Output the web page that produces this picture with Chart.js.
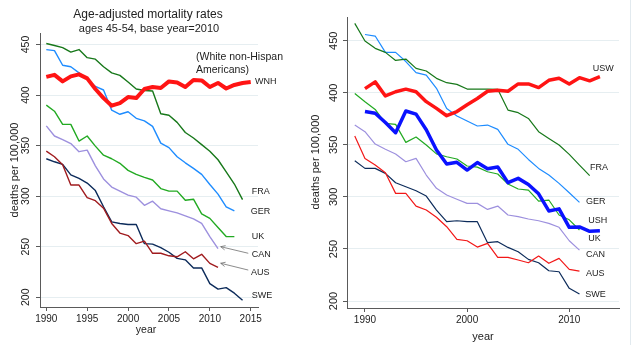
<!DOCTYPE html>
<html>
<head>
<meta charset="utf-8">
<script src="https://cdn.jsdelivr.net/npm/chart.js@4"></script>
<style>
  html, body { margin: 0; padding: 0; background: #fff; width: 640px; height: 345px; overflow: hidden; }
  canvas { position: absolute; top: 0; }
  #left { left: 0; }
  #right { left: 300px; }
</style>
</head>
<body>
<canvas id="left" width="300" height="345"></canvas>
<canvas id="right" width="340" height="345"></canvas>
<script>
// ---- Left panel: age-adjusted mortality, ages 45-54 (base year 2010) ----
const leftYears = [1990, 1991, 1992, 1993, 1994, 1995, 1996, 1997, 1998, 1999, 2000, 2001, 2002,
                   2003, 2004, 2005, 2006, 2007, 2008, 2009, 2010, 2011, 2012, 2013, 2014, 2015];
const leftWNH = [418, 420, 413.5, 418.5, 420.5, 416.5, 406, 397, 389.5, 392, 398, 397, 406,
                 408, 407, 413.5, 412.5, 408, 415, 414.5, 408, 412, 406.5, 410, 412, 413];
const leftFRA = [451, 449, 447, 442.5, 445, 437, 435.5, 428, 422, 419.5, 413, 406, 404.5,
                 404, 381.5, 380, 373, 363, 357.5, 351, 344.5, 336, 324, 312, 296.5, null];
const leftGER = [445, 444, 429.5, 428, 422, 416, 408.5, 405, 385, 381, 383.5, 377, 374.5,
                 369, 352.5, 348, 339, 333, 327.5, 321.5, 311.5, 302, 289.5, 285.5, null, null];
const leftUK  = [390, 384, 371, 371, 354.5, 359.5, 349.5, 340.5, 337, 332.5, 325.5, 321.5, 318.5,
                 316, 307.5, 305, 305, 296, 297, 282.5, 278, 269, 260, 260, null, null];
const leftCAN = [369.5, 359.5, 356, 352, 344, 345.5, 330, 317, 309, 305, 301, 299, 291,
                 295, 287.5, 285.5, 283.5, 280.5, 277.5, 273, 260, 248, null, null, null, null];
const leftAUS = [344.5, 339, 331, 311, 311, 298.5, 295.5, 288, 273, 263.5, 261, 253, 255.5,
                 243.5, 243.5, 241, 240, 245, 238, 242.5, 233.5, 229.5, null, null, null, null];
const leftSWE = [337, 334, 331.5, 321, 317.5, 313, 305.5, 289.5, 274.5, 273, 272, 272, 253,
                 252.5, 249, 244.5, 238.5, 237, 229, 229, 213.5, 208, 209.5, 204, 197, null];
const leftXTicks = [1990, 1995, 2000, 2005, 2010, 2015];
const leftYTicks = [200, 250, 300, 350, 400, 450];

// ---- Right panel: US whites / US Hispanics and comparison countries ----
const rightYears = [1989, 1990, 1991, 1992, 1993, 1994, 1995, 1996, 1997, 1998, 1999, 2000, 2001,
                    2002, 2003, 2004, 2005, 2006, 2007, 2008, 2009, 2010, 2011, 2012, 2013];
const rightUSW = [null, 404, 410.5, 397, 401, 403.5, 401, 391.5, 385, 378, 382, 388.5, 394.5,
                  401.5, 402.5, 401.5, 408.5, 408.5, 405, 412, 414, 408.5, 414.5, 411.5, 415.5];
const rightUSH = [null, 382, 380.3, 371.5, 361.7, 382.5, 379.5, 364.5, 345, 331.6, 333.2, 325.8, 333,
                  327, 328.7, 313.7, 317.8, 312, 303, 286.5, 288.5, 270.8, 271.2, 267, 267.5];
const rightFRA = [466.7, 449.7, 442.7, 438.8, 431.1, 432.4, 423.5, 420.9, 413.9, 409.7, 408.1, 403.6, 403.6,
                  403.6, 403.3, 383.4, 380.9, 375.4, 362.6, 356.2, 349.8, 340.8, 330.6, 320.5, null];
const rightGER = [null, 456, 454.5, 438.8, 438.8, 430, 419.3, 417, 404.3, 385, 377.7, 372.9, 368.1,
                  369, 364.9, 350.5, 345.7, 336, 327.4, 321, 313, 304, 294.8, null, null];
const rightUK  = [399.4, 391.4, 384, 370.6, 369.7, 352.4, 357.5, 349.8, 341.3, 338.6, 336.4, 329.7, 328.6,
                  324.2, 322, 312.4, 307.6, 306.6, 296, 297, 282.6, 278, 268.2, null, null];
const rightCAN = [369, 362.6, 350.8, 345.7, 341.2, 333.8, 337, 321, 308.2, 301.8, 297.7, 293.8, 293.8,
                  288, 291.2, 282.6, 281, 278.8, 277.1, 274.6, 270.8, 257.9, 248.9, null, null];
const rightAUS = [358.4, 337, 330.6, 323.2, 303.4, 303.4, 291.2, 287.4, 280.4, 271.4, 259.2, 257.9, 251.8,
                  255.4, 242, 242, 239.4, 236.8, 243.2, 236.2, 241, 230.4, 228.8, null, null];
const rightSWE = [334.7, 327.4, 327.4, 322.6, 313.6, 309.8, 305.9, 300.8, 287.4, 276.2, 277.1, 276.2, 276.2,
                  256, 257, 251.5, 247.3, 240, 236.8, 229.1, 228.1, 212.2, 206.7, null, null];
const rightXTicks = [1990, 2000, 2010];
const rightYTicks = [200, 250, 300, 350, 400, 450];

const FONT = '"Liberation Sans", Arial, Helvetica, sans-serif';
const INK = '#222';
const AXIS = '#5a5a5a';
const GRID = '#e6eef1';

const C = {
  red: '#ff1414', fra: '#17781a', ger: '#1e8cff', uk: '#22aa22',
  can: '#9d90de', ausDark: '#a01b1e', ausRed: '#f21818', swe: '#0c2b5a', ush: '#0a12ff'
};

function series(years, values, color, width) {
  const pts = [];
  years.forEach((yr, i) => { if (values[i] !== null) pts.push({ x: yr, y: values[i] }); });
  return {
    data: pts, borderColor: color, borderWidth: width, pointRadius: 0,
    borderJoinStyle: 'round', borderCapStyle: 'butt', tension: 0, fill: false
  };
}

// Text, tick labels and callout arrows, all placed through the chart's scales.
function panelDecor(spec) {
  return {
    id: 'panelDecor',
    afterDraw(chart) {
      const ctx = chart.ctx, xs = chart.scales.x, ys = chart.scales.y;
      const px = v => xs.getPixelForValue(v), py = v => ys.getPixelForValue(v);
      ctx.save();
      ctx.fillStyle = INK;
      ctx.textAlign = 'center';
      ctx.textBaseline = 'middle';

      // y tick labels (vertical)
      ctx.font = spec.yTickFont + ' ' + FONT;
      spec.yTicks.forEach(v => {
        ctx.save();
        ctx.translate(spec.yLabelX, py(v));
        ctx.rotate(-Math.PI / 2);
        ctx.fillText(String(v), 0, 0);
        ctx.restore();
      });

      // x tick labels
      ctx.font = spec.xTickFont + ' ' + FONT;
      spec.xTicks.forEach(v => ctx.fillText(String(v), px(v), spec.xLabelY));

      // axis titles
      ctx.font = spec.xTitle.font + ' ' + FONT;
      ctx.fillText(spec.xTitle.text, spec.xTitle.x, spec.xTitle.y);
      ctx.save();
      ctx.font = spec.yTitle.font + ' ' + FONT;
      ctx.translate(spec.yTitle.x, spec.yTitle.y);
      ctx.rotate(-Math.PI / 2);
      ctx.fillText(spec.yTitle.text, 0, 0);
      ctx.restore();

      // chart title lines
      (spec.titles || []).forEach(t => {
        ctx.font = t.font + ' ' + FONT;
        ctx.fillText(t.text, t.x, t.y);
      });

      // series labels at the right-hand end
      ctx.textAlign = 'left';
      (spec.labels || []).forEach(l => {
        ctx.font = (l.font || '9px') + ' ' + FONT;
        ctx.fillText(l.text, px(l.year), py(l.value));
      });

      // callout arrows
      ctx.strokeStyle = '#6f6f6f';
      ctx.lineWidth = 0.8;
      (spec.arrows || []).forEach(a => {
        const x0 = px(a.from[0]), y0 = py(a.from[1]);
        const x1 = px(a.to[0]), y1 = py(a.to[1]);
        const ang = Math.atan2(y1 - y0, x1 - x0);
        const h = 5, spread = 0.45;
        ctx.beginPath();
        ctx.moveTo(x0, y0); ctx.lineTo(x1, y1);
        ctx.moveTo(x1 - h * Math.cos(ang - spread), y1 - h * Math.sin(ang - spread));
        ctx.lineTo(x1, y1);
        ctx.lineTo(x1 - h * Math.cos(ang + spread), y1 - h * Math.sin(ang + spread));
        ctx.stroke();
      });

      // faint frame edge
      if (spec.edgeX !== undefined) {
        ctx.strokeStyle = '#e2eaef';
        ctx.lineWidth = 1;
        ctx.beginPath();
        ctx.moveTo(spec.edgeX + 0.5, 0); ctx.lineTo(spec.edgeX + 0.5, chart.height);
        ctx.stroke();
      }
      ctx.restore();
    }
  };
}

function panelOptions(cfg) {
  return {
    responsive: false,
    animation: false,
    events: [],
    layout: { padding: { top: cfg.padTop, right: cfg.padRight, left: 0, bottom: 0 } },
    plugins: { legend: { display: false }, tooltip: { enabled: false }, title: { display: false } },
    scales: {
      x: {
        type: 'linear', min: cfg.xMin, max: cfg.xMax,
        afterBuildTicks: s => { s.ticks = cfg.xTicks.map(v => ({ value: v })); },
        afterFit: s => { s.height = cfg.xAxisHeight; },
        ticks: { display: false },
        grid: { drawOnChartArea: false, drawTicks: true, tickLength: 4, tickColor: AXIS, tickWidth: 1 },
        border: { display: true, color: AXIS, width: 1 }
      },
      y: {
        type: 'linear', min: cfg.yMin, max: cfg.yMax,
        afterBuildTicks: s => { s.ticks = cfg.yTicks.map(v => ({ value: v })); },
        afterFit: s => { s.width = cfg.yAxisWidth; },
        ticks: { display: false },
        grid: { color: GRID, lineWidth: 1, drawTicks: true, tickLength: 4, tickColor: AXIS },
        border: { display: true, color: AXIS, width: 1 }
      }
    }
  };
}

// Left chart
new Chart(document.getElementById('left'), {
  type: 'line',
  data: {
    datasets: [
      series(leftYears, leftWNH, C.red, 4),
      series(leftYears, leftFRA, C.fra, 1.4),
      series(leftYears, leftGER, C.ger, 1.4),
      series(leftYears, leftUK, C.uk, 1.4),
      series(leftYears, leftCAN, C.can, 1.4),
      series(leftYears, leftAUS, C.ausDark, 1.4),
      series(leftYears, leftSWE, C.swe, 1.4)
    ]
  },
  options: panelOptions({
    padTop: 33, padRight: 42, xAxisHeight: 38, yAxisWidth: 40,
    xMin: 1989.23, xMax: 2015.89, yMin: 190.35, yMax: 461.4,
    xTicks: leftXTicks, yTicks: leftYTicks
  }),
  plugins: [panelDecor({
    yTicks: leftYTicks, yLabelX: 26.5, yTickFont: '10.5px',
    xTicks: leftXTicks, xLabelY: 319.5, xTickFont: '10px',
    xTitle: { text: 'year', x: 146, y: 330.5, font: '10.5px' },
    yTitle: { text: 'deaths per 100,000', x: 14.5, y: 170, font: '11px' },
    titles: [
      { text: 'Age-adjusted mortality rates', x: 148, y: 15, font: '12px' },
      { text: 'ages 45-54, base year=2010', x: 149, y: 28.5, font: '11px' }
    ],
    labels: [
      { text: '(White non-Hispan', year: 2008.31, value: 437.6, font: '10.5px' },
      { text: 'Americans)', year: 2008.31, value: 424.8, font: '10.5px' },
      { text: 'WNH', year: 2015.53, value: 413.9 },
      { text: 'FRA', year: 2015.12, value: 304.4 },
      { text: 'GER', year: 2015.0, value: 284.6 },
      { text: 'UK', year: 2015.12, value: 259.9 },
      { text: 'CAN', year: 2015.12, value: 241.8 },
      { text: 'AUS', year: 2015.04, value: 224.7 },
      { text: 'SWE', year: 2015.12, value: 202.2 }
    ],
    arrows: [
      { from: [2014.7, 243.5], to: [2011.33, 250] },
      { from: [2014.7, 226.9], to: [2011.33, 233.6] }
    ]
  })]
});

// Right chart
new Chart(document.getElementById('right'), {
  type: 'line',
  data: {
    datasets: [
      series(rightYears, rightUSW, C.red, 3.5),
      series(rightYears, rightUSH, C.ush, 3.5),
      series(rightYears, rightFRA, C.fra, 1.2),
      series(rightYears, rightGER, C.ger, 1.2),
      series(rightYears, rightUK, C.uk, 1.2),
      series(rightYears, rightCAN, C.can, 1.2),
      series(rightYears, rightAUS, C.ausRed, 1.2),
      series(rightYears, rightSWE, C.swe, 1.2)
    ]
  },
  options: panelOptions({
    padTop: 17, padRight: 21, xAxisHeight: 37, yAxisWidth: 47,
    xMin: 1988.24, xMax: 2014.87, yMin: 193.3, yMax: 472.8,
    xTicks: rightXTicks, yTicks: rightYTicks
  }),
  plugins: [panelDecor({
    yTicks: rightYTicks, yLabelX: 34, yTickFont: '11px',
    xTicks: rightXTicks, xLabelY: 320, xTickFont: '10px',
    xTitle: { text: 'year', x: 183, y: 336.5, font: '11px' },
    yTitle: { text: 'deaths per 100,000', x: 16, y: 162, font: '11px' },
    labels: [
      { text: 'USW', year: 2012.29, value: 423.5 },
      { text: 'FRA', year: 2012.03, value: 328.4 },
      { text: 'GER', year: 2011.64, value: 296 },
      { text: 'USH', year: 2011.86, value: 277.1 },
      { text: 'UK', year: 2011.86, value: 260.2 },
      { text: 'CAN', year: 2011.64, value: 245.1 },
      { text: 'AUS', year: 2011.64, value: 226.6 },
      { text: 'SWE', year: 2011.57, value: 206.4 }
    ],
    edgeX: 330
  })]
});
</script>
</body>
</html>
